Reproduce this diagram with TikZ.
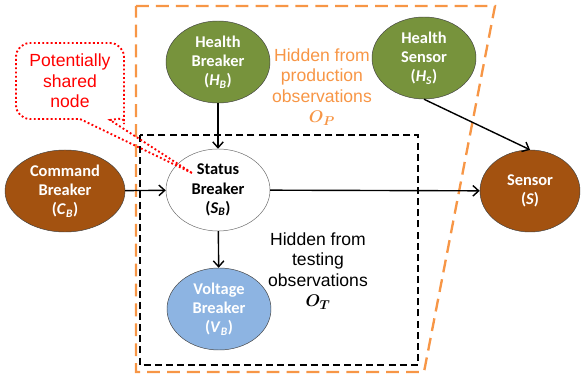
\documentclass[tikz,border=0pt]{standalone}
\usepackage{fontspec}
\usepackage{amsmath,bm}
\setmainfont{Liberation Sans}
\newfontfamily\calibri{Carlito}
\usetikzlibrary{shapes.geometric,arrows.meta}
\definecolor{kaki}{RGB}{119,147,60}
\definecolor{brun}{RGB}{163,82,16}
\definecolor{bleuclair}{RGB}{141,180,226}
\definecolor{orangeP}{RGB}{247,150,70}
\definecolor{rougeP}{RGB}{255,0,0}

\tikzset{
  noeud/.style={ellipse, draw=black!75, thin, inner sep=0pt,
    minimum width=3.12cm, minimum height=2.46cm, align=center,
    font=\calibri\bfseries\fontsize{14}{16.5}\selectfont, text=white},
  fleche/.style={line width=1.2pt, -{Straight Barb[length=5pt,width=9pt]}},
  etiquette/.style={align=center, font=\fontsize{15}{17.5}\selectfont}
}
\newcommand{\indice}[2]{(\textit{#1}\textsubscript{\textit{#2}})}

\begin{document}
\begin{tikzpicture}[x=0.03cm,y=-0.03cm]
\useasboundingbox (0,0) rectangle (581,375);
% zones
\draw [orangeP, line width=2pt, dash pattern=on 11pt off 6pt]
  (136,6) -- (495,6) -- (424,372) -- (136,372) -- cycle;
\draw [black, line width=1.6pt, dash pattern=on 6pt off 3.5pt]
  (140,135) rectangle (418,365);
% noeuds
\node [noeud, fill=kaki] (HB) at (218,62) {Health\\Breaker\\\indice{H}{B}};
\node [noeud, fill=kaki] (HS) at (424,58) {Health\\Sensor\\\indice{H}{S}};
\node [noeud, fill=brun, minimum width=3.6cm] (CB) at (65,191) {Command\\Breaker\\\indice{C}{B}};
\node [noeud, fill=white, text=black, draw=black!60] (SB) at (218,190) {Status\\Breaker\\\indice{S}{B}};
\node [noeud, fill=bleuclair] (VB) at (219,309) {Voltage\\Breaker\\\indice{V}{B}};
\node [noeud, fill=brun, minimum width=3cm] (S) at (530,191) {Sensor\\(\textit{S})};
% fleches
\draw [fleche] (HB) -- (SB);
\draw [fleche] (CB) -- (SB);
\draw [fleche] (SB) -- (VB);
\draw [fleche] (SB) -- (S);
\draw [fleche] (HS.south) -- (S.north);
% textes
\node [etiquette, text=orangeP] (Prod) at (322,87)
  {Hidden from\\production\\observations\\$\bm{O}_{\bm{P}}$};
\node [etiquette] (Test) at (318,271)
  {Hidden from\\testing\\observations\\$\bm{O}_{\bm{T}}$};
% bulle
\coordinate (pointe) at (192,173);
\draw [rougeP, line width=1.6pt, dotted]
  (pointe) -- (80,119) [rounded corners=12pt] -- (16,119) -- (16,43)
  -- (124,43) -- (124,110) [sharp corners] .. controls (124,118) .. (110,120)
  -- (pointe);
\node [etiquette, text=rougeP] (Bulle) at (70,81) {Potentially\\shared\\node};
\end{tikzpicture}
\end{document}
